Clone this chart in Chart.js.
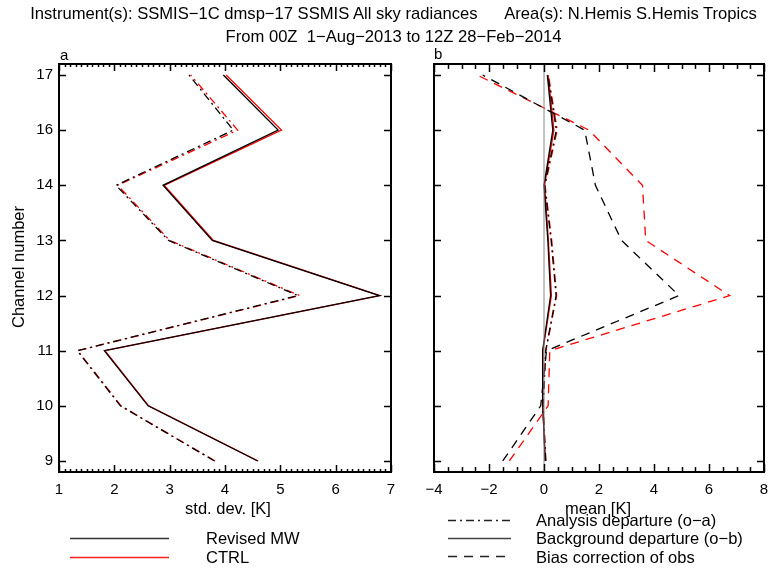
<!DOCTYPE html>
<html>
<head>
<meta charset="utf-8">
<script src="https://cdn.jsdelivr.net/npm/chart.js@4.4.1/dist/chart.umd.min.js"></script>
<style>
body{margin:0;background:#fff;font-family:"Liberation Sans",Arial,sans-serif;color:#000;}
#wrap{position:relative;width:771px;height:572px;overflow:hidden;}
canvas{position:absolute;left:0;top:0;}
.t{position:absolute;white-space:pre;line-height:20px;font-size:16.5px;}
</style>
</head>
<body>
<div id="wrap">
<canvas id="c1" width="771" height="572"></canvas>
<canvas id="c2" width="820" height="572"></canvas>
<div class="t" style="left:8px;width:771px;top:4px;text-align:center;font-size:16.6px">Instrument(s): SSMIS−1C dmsp−17 SSMIS All sky radiances      Area(s): N.Hemis S.Hemis Tropics</div>
<div class="t" style="left:8px;width:771px;top:27px;text-align:center;font-size:16.6px">From 00Z  1−Aug−2013 to 12Z 28−Feb−2014</div>
<div class="t" style="left:60px;top:45px;font-size:15px">a</div>
<div class="t" style="left:434px;top:44px;font-size:15px">b</div>
<div class="t" style="left:-42px;top:258px;width:120px;text-align:center;transform:rotate(-90deg)">Channel number</div>
<div class="t" style="left:128px;width:200px;top:498px;text-align:center">std. dev. [K]</div>
<div class="t" style="left:498px;width:200px;top:498px;text-align:center">mean [K]</div>
<div class="t" style="left:206px;top:528px">Revised MW</div>
<div class="t" style="left:206px;top:547px">CTRL</div>
<div class="t" style="left:536px;top:510px">Analysis departure (o−a)</div>
<div class="t" style="left:536px;top:528px">Background departure (o−b)</div>
<div class="t" style="left:536px;top:547px">Bias correction of obs</div>
</div>
<script>
// channels plotted (15 is not used), drawn at equal spacing
const channels = ['9','10','11','12','13','14','16','17'];

// std. dev. [K]
const fgStdRev  = [4.59, 2.61, 1.82, 6.79, 3.77, 2.88, 4.96, 3.97];
const fgStdCtrl = [4.60, 2.62, 1.83, 6.80, 3.79, 2.90, 5.02, 4.02];
const anStdRev  = [3.81, 2.11, 1.33, 5.32, 2.98, 2.03, 4.15, 3.35];
const anStdCtrl = [3.82, 2.12, 1.34, 5.35, 3.00, 2.06, 4.23, 3.38];

// mean [K]
const anMeanRev  = [0.06, -0.04, 0.06, 0.44, 0.26, 0.02, 0.45, 0.14];
const anMeanCtrl = [0.07, -0.03, 0.07, 0.46, 0.28, 0.04, 0.48, 0.16];
const fgMeanRev  = [0.04, -0.04, -0.05, 0.24, 0.14, 0.00, 0.32, 0.12];
const fgMeanCtrl = [0.05, -0.05, -0.04, 0.27, 0.16, 0.02, 0.36, 0.15];
const bcRev  = [-1.50, -0.12, 0.09, 4.91, 2.82, 1.87, 1.48, -2.23];
const bcCtrl = [-1.26, 0.15, 0.21, 6.75, 3.70, 3.58, 1.64, -2.43];

const DASHDOT = [8, 4, 2, 4];
const DASHED = [9, 7];

function pts(vals){ return vals.map((v,i)=>({x:v, y:i})); }
function ds(vals, color, dash, w){
  return {data: pts(vals), borderColor: color, borderWidth: w || 1.3, borderDash: dash || [],
    showLine: true, pointRadius: 0, tension: 0, fill: false};
}

// frame with inward ticks on all four sides
const frameTicks = {
  id: 'frameTicks',
  afterDatasetsDraw(chart, args, o){
    const {ctx, chartArea:a, scales:{x, y}} = chart;
    ctx.save();
    ctx.strokeStyle = '#000';
    ctx.lineWidth = 1.5;
    ctx.beginPath();
    const n = Math.round((x.max - x.min) / o.minor);
    for(let k=0;k<=n;k++){
      const v = x.min + k*o.minor;
      const px = Math.round(x.getPixelForValue(v)) + 0.5;
      const major = Math.abs(v/o.major - Math.round(v/o.major)) < 1e-6;
      const len = major ? o.majorLen : o.minorLen;
      ctx.moveTo(px, a.bottom); ctx.lineTo(px, a.bottom - len);
      ctx.moveTo(px, a.top); ctx.lineTo(px, a.top + len);
    }
    channels.forEach((c,i)=>{
      const py = Math.round(y.getPixelForValue(i)) + 0.5;
      ctx.moveTo(a.left, py); ctx.lineTo(a.left + 7, py);
      ctx.moveTo(a.right, py); ctx.lineTo(a.right - 7, py);
    });
    ctx.stroke();
    ctx.lineWidth = 2;
    ctx.strokeRect(a.left, a.top, a.right - a.left, a.bottom - a.top);
    ctx.restore();
  }
};

// legend line samples
const legendLines = {
  id: 'legendLines',
  afterDraw(chart){
    const ctx = chart.ctx;
    function seg(x1, x2, y, color, dash){
      ctx.save();
      ctx.strokeStyle = color; ctx.lineWidth = 1.4; ctx.setLineDash(dash);
      ctx.beginPath(); ctx.moveTo(x1, y); ctx.lineTo(x2, y); ctx.stroke();
      ctx.restore();
    }
    seg(70, 169, 538.5, '#333', []);
    seg(70, 169, 557.5, '#ff2020', []);
    seg(448, 511, 520.5, '#222', DASHDOT);
    seg(448, 511, 538.5, '#444', []);
    seg(448, 511, 556.5, '#222', DASHED);
  }
};

const tickFont = {family: '"Liberation Sans", Arial, sans-serif', size: 15};

function yScale(showLabels){
  return {
    type: 'linear', min: -0.2, max: 7.2, display: showLabels,
    afterBuildTicks: s => { s.ticks = channels.map((c,i)=>({value:i})); },
    ticks: {font: tickFont, color: '#000', padding: 6, callback: (v)=>channels[v]},
    grid: {display: false, drawTicks: false}, border: {display: false},
    afterFit: s => { s.width = showLabels ? 59 : 0; }
  };
}
function xScale(min, max, step){
  return {
    type: 'linear', min: min, max: max,
    afterBuildTicks: s => { const t=[]; for(let v=min; v<=max; v+=step) t.push({value:v}); s.ticks = t; },
    ticks: {font: tickFont, color: '#000', padding: 9, maxRotation: 0,
      callback: v => v < 0 ? '−' + Math.abs(v) : String(v)},
    grid: {display: false, drawTicks: false}, border: {display: false},
    afterFit: s => { s.height = 100; }
  };
}

Chart.defaults.animation = false;

new Chart('c1', {
  type: 'scatter',
  data: {datasets: [
    ds(anStdRev, '#000', DASHDOT),
    ds(anStdCtrl, '#ff0000', DASHDOT),
    ds(fgStdRev, '#000'),
    ds(fgStdCtrl, '#ff0000')
  ]},
  options: {
    responsive: false, devicePixelRatio: 1, animation: false,
    layout: {padding: {left: 0, top: 64, right: 380, bottom: 0}},
    plugins: {legend: {display: false}, tooltip: {enabled: false},
      frameTicks: {minor: 0.1, major: 1, majorLen: 7, minorLen: 3}},
    scales: {x: xScale(1, 7, 1), y: yScale(true)}
  },
  plugins: [frameTicks, legendLines]
});

new Chart('c2', {
  type: 'scatter',
  data: {datasets: [
    Object.assign(ds([], '#888', [], 1), {data: [{x:0,y:-0.2},{x:0,y:7.2}]}),
    ds(bcRev, '#000', DASHED),
    ds(bcCtrl, '#ff0000', DASHED),
    ds(anMeanRev, '#000', DASHDOT),
    ds(anMeanCtrl, '#ff0000', DASHDOT),
    ds(fgMeanRev, '#000'),
    ds(fgMeanCtrl, '#ff0000')
  ]},
  options: {
    responsive: false, devicePixelRatio: 1, animation: false,
    layout: {padding: {left: 434, top: 64, right: 56, bottom: 0}},
    plugins: {legend: {display: false}, tooltip: {enabled: false},
      frameTicks: {minor: 0.5, major: 2, majorLen: 8, minorLen: 5}},
    scales: {x: xScale(-4, 8, 2), y: yScale(false)}
  },
  plugins: [frameTicks]
});
</script>
</body>
</html>
